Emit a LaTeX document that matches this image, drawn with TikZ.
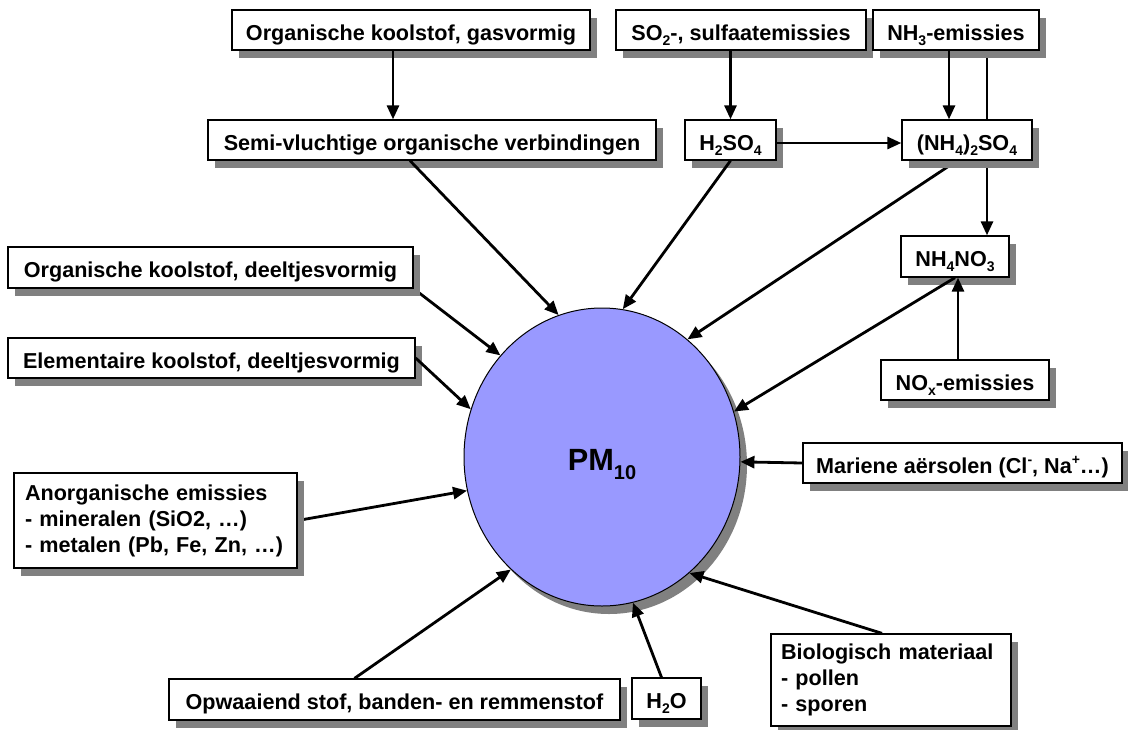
\documentclass[tikz,border=0pt]{standalone}
\usepackage{fontspec}
\setmainfont{Liberation Sans}
\usetikzlibrary{shapes.geometric,shadows,arrows.meta,calc}
\definecolor{pmfill}{HTML}{9999FF}
\definecolor{shd}{HTML}{808080}
\pgfdeclarelayer{bg}
\pgfsetlayers{bg,main}
\newcommand\dn[1]{\raisebox{-0.24em}{\fontsize{14}{14}\selectfont #1}}
\newcommand\upx[1]{\raisebox{0.42em}{\fontsize{14}{14}\selectfont #1}}
\begin{document}
\begin{tikzpicture}[x=1pt,y=-1pt,
  every node/.style={font=\fontsize{21.6}{26}\selectfont\bfseries},
  myshadow/.style={drop shadow={shadow xshift=7pt,shadow yshift=-8pt,opacity=1,fill=shd}},
  box/.style={draw=black,line width=1.3pt,fill=white,rectangle,inner sep=0pt,myshadow,
              text height=20.5pt,text depth=0pt},
  mbox/.style={draw=black,line width=1.3pt,fill=white,rectangle,inner ysep=0pt,
              align=left,myshadow},
  arr/.style={line width=2.8pt,-{Triangle[length=14pt,width=12pt]}},
  ln/.style={line width=2.8pt}]
\useasboundingbox (0,0) rectangle (1128,729);

% boxes
\node[box,minimum width=358pt,minimum height=40pt] (okgas) at (411,30) {Organische koolstof, gasvormig};
\node[box,minimum width=250pt,minimum height=40pt] (so2) at (741,30) {SO\dn{2}-, sulfaatemissies};
\node[box,minimum width=166pt,minimum height=40pt] (nh3) at (956,30) {NH\dn{3}-emissies};
\node[box,minimum width=448pt,minimum height=40pt] (semi) at (432,140) {Semi-vluchtige organische verbindingen};
\node[box,minimum width=91pt,minimum height=40pt] (h2so4) at (730.5,140) {H\dn{2}SO\dn{4}};
\node[box,minimum width=130pt,minimum height=40pt] (nh42so4) at (967,140) {(NH\dn{4})\dn{2}SO\dn{4}};
\node[box,minimum width=108pt,minimum height=41pt] (nh4no3) at (955,256.5) {NH\dn{4}NO\dn{3}};
\node[box,minimum width=168pt,minimum height=40pt] (nox) at (965,380) {NO\dn{x}-emissies};
\node[box,minimum width=405pt,minimum height=41pt] (okdeel) at (210.5,267.5) {Organische koolstof, deeltjesvormig};
\node[box,minimum width=407pt,minimum height=40pt] (elem) at (211.5,358) {Elementaire koolstof, deeltjesvormig};
\node[mbox,text width=261pt,inner xsep=11pt,minimum height=95pt] (anorg) at (155.5,520.5) {Anorganische emissies\\- mineralen (SiO2, …)\\- metalen (Pb, Fe, Zn, …)};
\node[box,minimum width=451pt,minimum height=41pt] (opw) at (394.5,699.5) {Opwaaiend stof, banden- en remmenstof};
\node[box,minimum width=69pt,minimum height=41pt] (h2o) at (666.5,698.5) {H\dn{2}O};
\node[mbox,text width=220pt,inner xsep=10pt,minimum height=92pt] (bio) at (891,680) {Biologisch materiaal\\- pollen\\- sporen};
\node[box,minimum width=319pt,minimum height=40pt] (mar) at (962.5,463) {Mariene aërsolen (Cl\upx{-}, Na\upx{+}…)};

\begin{pgfonlayer}{bg}
\fill[white] (0,0) rectangle (1128,729);
\node[ellipse,draw=black,line width=1pt,fill=pmfill,minimum width=276pt,minimum height=298pt,
      inner sep=0pt,myshadow,font=\fontsize{30.7}{30}\selectfont\bfseries] (pm) at (602,457)
      {\raisebox{-13pt}[0pt][0pt]{PM\raisebox{-0.3em}{\fontsize{20}{20}\selectfont 10}}};
\draw[arr] ($(nh3.south)+(31,0)$) -- ($(nh4no3.north)+(32,0)$);
\draw[arr] ($(nh42so4.south)+(-10,0)$) -- (pm.54.6);
\draw[arr] (anorg.east) -- (pm.194.9);
\draw[arr] (okdeel.south east) -- (pm.135.6);
\end{pgfonlayer}

% front connectors
\draw[arr] ($(okgas.south)+(-18,0)$) -- ($(semi.north)+(-39,0)$);
\draw[arr] (h2so4.north |- so2.south) -- (h2so4.north);
\draw[arr] ($(nh3.south)+(-7,0)$) -- ($(nh42so4.north)+(-18,0)$);
\draw[arr] ($(h2so4.east)+(0,3)$) -- ($(nh42so4.west)+(0,3)$);
\draw[arr] ($(semi.south)+(-22,0)$) -- (pm.107.2);
\draw[arr] (h2so4.south) -- (pm.82.4);
\draw[arr] (nh4no3.south) -- (pm.19.9);
\draw[arr] ($(nox.north)+(-7,0)$) -- ($(nh4no3.south)+(3,0)$);
\draw[arr] (mar.west) -- (pm.-2.5);
\draw[arr] ($(bio.north)+(-9,0)$) -- (pm.-53.3);
\draw[arr] ($(h2o.north)+(-5,0)$) -- (pm.-78.4);
\draw[arr] ($(opw.north)+(-40,0)$) -- (pm.231.3);
\draw[arr] (elem.east) -- (pm.160.3);
\end{tikzpicture}
\end{document}
